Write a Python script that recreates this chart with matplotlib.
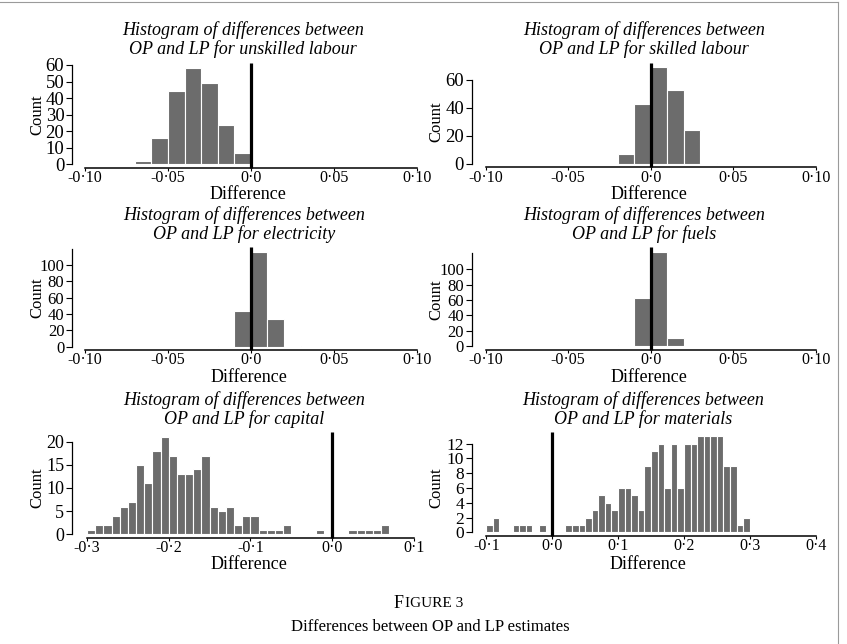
import matplotlib
matplotlib.use('Agg')
import matplotlib.pyplot as plt
from matplotlib.lines import Line2D

plt.rcParams['font.family'] = ['Liberation Serif', 'DejaVu Serif']

# ---------------------------
# Histogram data (left bin edge, count), bin width 0.01
# ---------------------------
BIN_W = 0.01

unsk_left = [-0.07, -0.06, -0.05, -0.04, -0.03, -0.02, -0.01]
unsk_count = [2, 16, 44, 58, 49, 24, 7]

skill_left = [-0.02, -0.01, 0.00, 0.01, 0.02, 0.03, 0.04]
skill_count = [7, 43, 69, 53, 24, 1, 1]

elec_left = [-0.02, -0.01, 0.00, 0.01, 0.02]
elec_count = [1, 44, 116, 34, 1]

fuel_left = [-0.02, -0.01, 0.00, 0.01]
fuel_count = [1, 62, 122, 11]

cap_left = [-0.30, -0.29, -0.28, -0.27, -0.26, -0.25, -0.24, -0.23, -0.22,
            -0.21, -0.20, -0.19, -0.18, -0.17, -0.16, -0.15, -0.14, -0.13,
            -0.12, -0.11, -0.10, -0.09, -0.08, -0.07, -0.06, -0.02,
            0.02, 0.03, 0.04, 0.05, 0.06]
cap_count = [1, 2, 2, 4, 6, 7, 15, 11, 18, 21, 17, 13, 13, 14, 17, 6, 5, 6,
             2, 4, 4, 1, 1, 1, 2, 1,
             1, 1, 1, 1, 2]

mat_left = [-0.10, -0.09, -0.06, -0.05, -0.04, -0.02,
            0.02, 0.03, 0.04, 0.05, 0.06, 0.07, 0.08, 0.09, 0.10, 0.11,
            0.12, 0.13, 0.14, 0.15, 0.16, 0.17, 0.18, 0.19, 0.20, 0.21,
            0.22, 0.23, 0.24, 0.25, 0.26, 0.27, 0.28, 0.29]
mat_count = [1, 2, 1, 1, 1, 1,
             1, 1, 1, 2, 3, 5, 4, 3, 6, 6,
             5, 3, 9, 11, 12, 6, 12, 6, 12, 12,
             13, 13, 13, 13, 9, 9, 1, 2]

# tick values and labels
small_xticks = [-0.10, -0.05, 0.0, 0.05, 0.10]
small_xlabels = ['-0·10', '-0·05', '0·0', '0·05', '0·10']
cap_xticks = [-0.3, -0.2, -0.1, 0.0, 0.1]
cap_xlabels = ['-0·3', '-0·2', '-0·1', '0·0', '0·1']
mat_xticks = [-0.1, 0.0, 0.1, 0.2, 0.3, 0.4]
mat_xlabels = ['-0·1', '0·0', '0·1', '0·2', '0·3', '0·4']

unsk_yticks = [0, 10, 20, 30, 40, 50, 60]
skill_yticks = [0, 20, 40, 60]
energy_yticks = [0, 20, 40, 60, 80, 100]
cap_yticks = [0, 5, 10, 15, 20]
mat_yticks = [0, 2, 4, 6, 8, 10, 12]

W, H = 847, 644
fig = plt.figure(figsize=(W / 100, H / 100), dpi=100)

BAR_COLOR = '#6c6c6c'
XTICK_FS = 11.5
LABEL_FS = 13
COUNT_FS = 12
TITLE_FS = 13
OUT = 3.5  # x axis sits this many px below the bars


def fx(px):
    return px / W


def fy(py):
    return 1 - py / H


def panel(spine_x, xpx, xval, y0, ypu, ytop, right_px, spine_top,
          left, count, xticks, xlabels, yticks, ytick_fs, what,
          title_cx, title_y, count_x, diff_y):
    sx = (xpx[1] - xpx[0]) / (xval[1] - xval[0])
    xlo = xval[0] - (xpx[0] - spine_x) / sx
    xhi = xval[1] + (right_px - xpx[1]) / sx
    top_px = y0 - ytop * ypu
    ax_h = y0 - top_px
    ax_w = right_px - spine_x
    ax = fig.add_axes([fx(spine_x), fy(y0), ax_w / W, ax_h / H])
    ax.set_xlim(xlo, xhi)
    ax.set_ylim(0, ytop)
    ax.patch.set_visible(False)

    ax.bar(left, count, width=BIN_W, align='edge', color=BAR_COLOR,
           edgecolor='white', linewidth=0.8)
    # zero reference line
    ax.plot([0, 0], [-OUT / ypu, ytop], color='black', lw=2.3,
            solid_capstyle='butt', clip_on=False, zorder=5)

    for s in ['top', 'right']:
        ax.spines[s].set_visible(False)
    ax.spines['bottom'].set_position(('outward', OUT * 0.72))
    ax.spines['bottom'].set_bounds(xval[0], xval[1])
    ax.spines['left'].set_bounds(0, spine_top)
    ax.spines['bottom'].set_linewidth(1.1)
    ax.spines['left'].set_linewidth(0.9)

    ax.set_xticks(xticks)
    ax.set_xticklabels(xlabels)
    ax.set_yticks(yticks)
    ax.tick_params(axis='x', direction='out', length=2, width=0.8,
                   labelsize=XTICK_FS, pad=-0.5)
    ax.tick_params(axis='y', direction='out', length=4, width=0.8,
                   labelsize=ytick_fs, pad=1.5)

    ax.set_xlabel('Difference', fontsize=LABEL_FS)
    ax.xaxis.set_label_coords((title_cx + 5 - spine_x) / ax_w,
                              -(diff_y - 8 - y0) / ax_h)
    ax.set_ylabel('Count', fontsize=COUNT_FS)
    ax.yaxis.set_label_coords((count_x - spine_x) / ax_w,
                              (spine_top / 2) / ytop)

    fig.text(fx(title_cx), fy(title_y), 'Histogram of differences between',
             ha='center', va='center', style='italic', fontsize=TITLE_FS)
    fig.text(fx(title_cx), fy(title_y + 19.5), 'OP and LP for ' + what,
             ha='center', va='center', style='italic', fontsize=TITLE_FS)
    return ax


panel(72, (85, 416.7), (-0.10, 0.10), 164.3, 1.655, 61.2, 420, 60,
      unsk_left, unsk_count, small_xticks, small_xlabels, unsk_yticks, 13.5,
      'unskilled labour', 243, 30, 45, 194)
panel(471.7, (485.7, 815.7), (-0.10, 0.10), 164, 1.4, 72, 820, 60,
      skill_left, skill_count, small_xticks, small_xlabels, skill_yticks, 13.5,
      'skilled labour', 644, 30, 444, 194)
panel(72, (85, 416.7), (-0.10, 0.10), 346.7, 0.817, 122.4, 420, 120,
      elec_left, elec_count, small_xticks, small_xlabels, energy_yticks, 12,
      'electricity', 244, 215, 45, 377)
panel(471.7, (485.7, 815.7), (-0.10, 0.10), 346, 0.767, 129.5, 820, 121,
      fuel_left, fuel_count, small_xticks, small_xlabels, energy_yticks, 12,
      'fuels', 644, 215, 444, 377)
panel(71.7, (87, 413.7), (-0.3, 0.1), 534.3, 4.63, 22, 416, 20,
      cap_left, cap_count, cap_xticks, cap_xlabels, cap_yticks, 13,
      'capital', 244, 400, 45, 564)
panel(471.7, (486.3, 815.7), (-0.1, 0.4), 532.3, 7.4, 13.6, 820, 12,
      mat_left, mat_count, mat_xticks, mat_xlabels, mat_yticks, 12.5,
      'materials', 643, 400, 444, 564)

# caption, "FIGURE" in small capitals
fig.text(fx(394), fy(603), 'F', ha='left', va='center', fontsize=13)
fig.text(fx(404.5), fy(603.6), 'IGURE 3', ha='left', va='center', fontsize=11)
fig.text(fx(430), fy(627), 'Differences between OP and LP estimates',
         ha='center', va='center', fontsize=12)

# page frame
fig.add_artist(Line2D([0, fx(838)], [fy(1.5), fy(1.5)], color='#9a9a9a', lw=0.8))
fig.add_artist(Line2D([fx(838), fx(838)], [fy(1.5), 0], color='#9a9a9a', lw=0.8))

fig.savefig('out.png', dpi=100)
